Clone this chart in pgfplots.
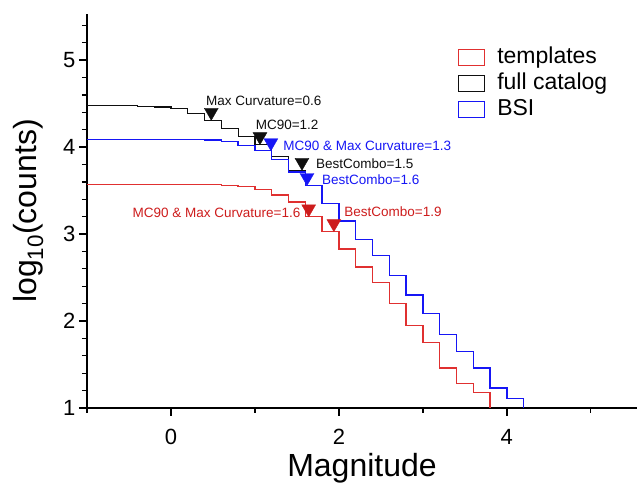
\documentclass[border=0pt]{standalone}
\usepackage{fontspec}
\setmainfont{Liberation Sans}
\usepackage{pgfplots}
\pgfplotsset{compat=1.18}

\definecolor{tplred}{RGB}{224,48,48}
\definecolor{tplredmk}{RGB}{205,28,28}
\definecolor{bsiblue}{RGB}{22,22,245}
\definecolor{catblack}{RGB}{15,15,15}

\begin{document}
\begin{tikzpicture}
\useasboundingbox (-87pt,-76pt) rectangle (550pt,408pt);
\begin{axis}[
  at={(0pt,0pt)}, anchor=south west,
  scale only axis, width=550pt, height=394pt,
  xmin=-1, xmax=5.55, ymin=1, ymax=5.53,
  axis lines*=left,
  axis line style={line width=1.6pt, -},
  xtick={0,2,4}, minor xtick={-1,1,3,5},
  ytick={1,2,3,4,5},
  minor ytick={1.2,1.4,1.6,1.8,2.2,2.4,2.6,2.8,3.2,3.4,3.6,3.8,4.2,4.4,4.6,4.8,5.2,5.4},
  tick align=outside,
  major tick length=8pt, minor tick length=5pt,
  every tick/.style={black, line width=1.3pt},
  tick label style={font=\fontsize{22}{22}\selectfont},
  xticklabel style={yshift=-10pt},
  /pgf/number format/assume math mode=true,
  xlabel={Magnitude},
  ylabel={log\textsubscript{10}(counts)},
  label style={font=\fontsize{32}{32}\selectfont},
  xlabel style={at={(axis description cs:0.5,-0.1726)}, anchor=base},
  ylabel style={at={(axis description cs:-0.0927,0.5)}, anchor=base},
  const plot,
  legend style={at={(axis description cs:0.6745,0.92)}, anchor=north west,
    draw=none, fill=none, inner sep=0pt, row sep=2pt,
    font=\fontsize{23}{23}\selectfont,
    nodes={inner sep=1pt, text height=17pt, text depth=5pt},
    /tikz/every odd column/.append style={column sep=11pt}},
  legend cell align=left,
  legend image code/.code={\draw[#1, line width=1.1pt] (0pt,-8pt) rectangle (26pt,8pt);},
]

% templates
\addplot[tplred, line width=1.35pt] coordinates {
  (-1,3.571) (0.6,3.56) (0.8,3.548) (1.0,3.51) (1.2,3.45) (1.4,3.37)
  (1.6,3.20) (1.8,3.03) (2.0,2.83) (2.2,2.62) (2.4,2.44) (2.6,2.20)
  (2.8,1.95) (3.0,1.755) (3.2,1.46) (3.4,1.28) (3.6,1.18) (3.8,1.0)
};
\addlegendentry{templates}

% full catalog (above M 1.6 it runs under the BSI curve)
\addplot[catblack, line width=1.2pt] coordinates {
  (-1,4.475) (-0.4,4.465) (-0.2,4.46) (0,4.44) (0.2,4.39) (0.4,4.31)
  (0.6,4.21) (0.8,4.12) (1.0,4.03) (1.2,3.89) (1.4,3.735) (1.6,3.56)
  (1.8,3.56)
};
\addlegendentry{full catalog}

% BSI
\addplot[bsiblue, line width=1.35pt] coordinates {
  (-1,4.09) (0.4,4.08) (0.6,4.065) (0.8,4.02) (1.0,3.96) (1.2,3.86)
  (1.4,3.715) (1.6,3.56) (1.8,3.35) (2.0,3.15) (2.2,2.94) (2.4,2.75)
  (2.6,2.52) (2.8,2.30) (3.0,2.09) (3.2,1.845) (3.4,1.65) (3.6,1.46)
  (3.8,1.23) (4.0,1.11) (4.2,1.0)
};
\addlegendentry{BSI}

% completeness estimates
\addplot[only marks, forget plot, mark=triangle*, mark size=8pt,
  mark options={rotate=180, fill=catblack, draw=catblack}]
  coordinates {(0.48,4.40) (1.06,4.12) (1.56,3.825)};
\addplot[only marks, forget plot, mark=triangle*, mark size=8pt,
  mark options={rotate=180, fill=bsiblue, draw=bsiblue}]
  coordinates {(1.19,4.05) (1.62,3.65)};
\addplot[only marks, forget plot, mark=triangle*, mark size=8pt,
  mark options={rotate=180, fill=tplredmk, draw=tplredmk}]
  coordinates {(1.64,3.29) (1.94,3.12)};

\begin{scope}[every node/.style={font=\fontsize{13.5}{13.5}\selectfont, inner sep=0pt}]
\node[anchor=base west, text=catblack] at (axis cs:0.417,4.477) {Max Curvature=0.6};
\node[anchor=base west, text=catblack] at (axis cs:1.008,4.201) {MC90=1.2};
\node[anchor=base west, text=bsiblue] at (axis cs:1.337,3.958) {MC90 \& Max Curvature=1.3};
\node[anchor=base west, text=catblack] at (axis cs:1.726,3.755) {BestCombo=1.5};
\node[anchor=base west, text=bsiblue] at (axis cs:1.798,3.575) {BestCombo=1.6};
\node[anchor=base east, text=tplredmk] at (axis cs:1.544,3.19) {MC90 \& Max Curvature=1.6};
\node[anchor=base west, text=tplredmk] at (axis cs:2.063,3.199) {BestCombo=1.9};
\end{scope}
\end{axis}
\end{tikzpicture}
\end{document}
